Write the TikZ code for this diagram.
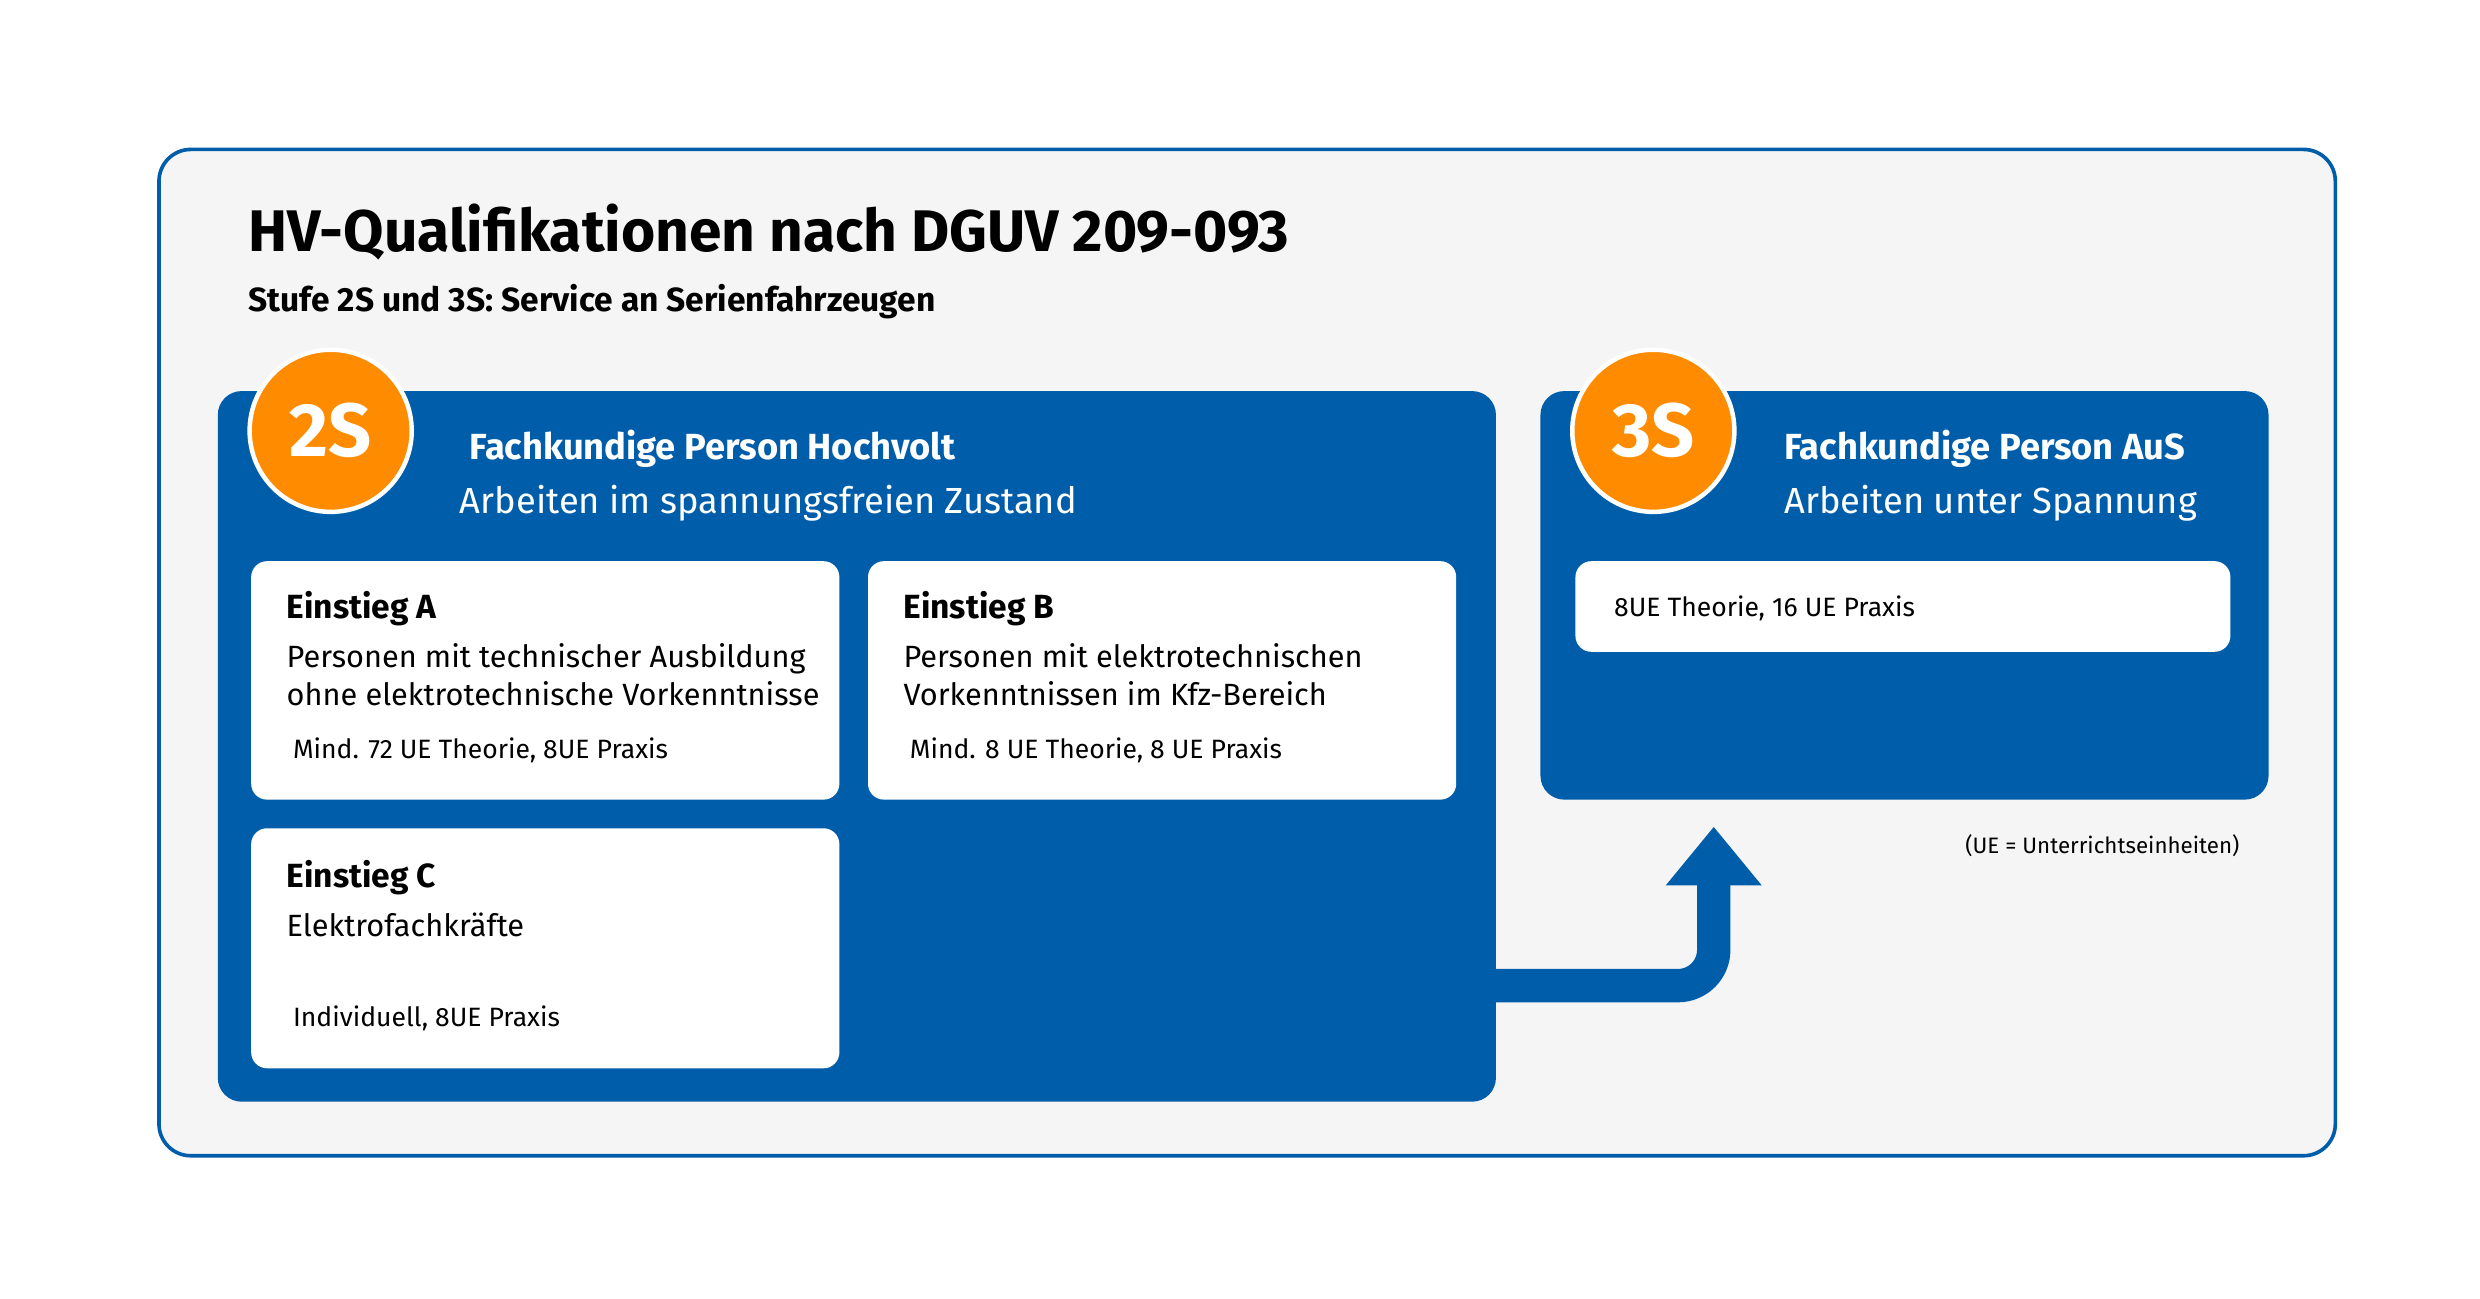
\documentclass[tikz,border=0pt]{standalone}
\usepackage{fontspec}
\setmainfont{Fira Sans}
\usetikzlibrary{arrows.meta}
\definecolor{hvblue}{RGB}{0, 93, 170}
\definecolor{hvorange}{RGB}{255, 140, 0}
\definecolor{hvgray}{RGB}{245, 245, 245}
\tikzset{
  panel/.style={fill=hvblue, rounded corners=0.3cm},
  card/.style={fill=white, rounded corners=0.2cm},
  badge/.style={circle, fill=hvorange, draw=white, line width=1.6pt, minimum size=2.04cm, inner sep=0pt, text=white, font=\fontsize{27}{30}\selectfont\bfseries},
  txt/.style={anchor=base west, inner sep=0pt},
}
\begin{document}
\begin{tikzpicture}[x=0.02cm, y=-0.02cm]
\useasboundingbox[fill=white] (0,0) rectangle (1560,817);
% Rahmen
\draw[hvblue, line width=1.3pt, fill=hvgray, rounded corners=0.4cm] (100,94) rectangle (1469,727);
\node[txt, font=\fontsize{21}{24}\selectfont\bfseries] (title) at (156,158) {HV-Qualifikationen nach DGUV 209-093};
\node[txt, font=\fontsize{12}{14}\selectfont\bfseries] (sub) at (156,196) {Stufe 2S und 3S: Service an Serienfahrzeugen};

% Stufe 2S
\path[panel] (137,246) rectangle (941,693);
\coordinate (p2s) at (941,620);
\node[badge] (b2s) at (208,271) {2S};
\node[txt, text=white, font=\fontsize{13}{15}\selectfont\bfseries] (h2s) at (295,289) {Fachkundige Person Hochvolt};
\node[txt, text=white, font=\fontsize{13}{15}\selectfont] (s2s) at (289,323) {Arbeiten im spannungsfreien Zustand};

% Einstieg A
\path[card] (158,353) rectangle (528,503);
\node[txt, font=\fontsize{12}{14}\selectfont\bfseries] (ea) at (180,389) {Einstieg A};
\node[txt, font=\fontsize{11}{13}\selectfont] (ea1) at (180,420) {Personen mit technischer Ausbildung};
\node[txt, font=\fontsize{11}{13}\selectfont] (ea2) at (180,444) {ohne elektrotechnische Vorkenntnisse};
\node[txt, font=\fontsize{9.5}{11}\selectfont] (ea3) at (184,477) {Mind. 72 UE Theorie, 8UE Praxis};

% Einstieg B
\path[card] (546,353) rectangle (916,503);
\node[txt, font=\fontsize{12}{14}\selectfont\bfseries] (eb) at (568,389) {Einstieg B};
\node[txt, font=\fontsize{11}{13}\selectfont] (eb1) at (568,420) {Personen mit elektrotechnischen};
\node[txt, font=\fontsize{11}{13}\selectfont] (eb2) at (568,444) {Vorkenntnissen im Kfz-Bereich};
\node[txt, font=\fontsize{9.5}{11}\selectfont] (eb3) at (572,477) {Mind. 8 UE Theorie, 8 UE Praxis};

% Einstieg C
\path[card] (158,521) rectangle (528,672);
\node[txt, font=\fontsize{12}{14}\selectfont\bfseries] (ec) at (180,558) {Einstieg C};
\node[txt, font=\fontsize{11}{13}\selectfont] (ec1) at (180,589) {Elektrofachkräfte};
\node[txt, font=\fontsize{9.5}{11}\selectfont] (ec3) at (184,646) {Individuell, 8UE Praxis};

% Stufe 3S
\path[panel] (969,246) rectangle (1427,503);
\node[badge] (b3s) at (1040,271) {3S};
\node[txt, text=white, font=\fontsize{13}{15}\selectfont\bfseries] (h3s) at (1122,289) {Fachkundige Person AuS};
\node[txt, text=white, font=\fontsize{13}{15}\selectfont] (s3s) at (1122,323) {Arbeiten unter Spannung};
\path[card] (991,353) rectangle (1403,410);
\node[txt, font=\fontsize{9.5}{11}\selectfont] (e3) at (1015,388) {8UE Theorie, 16 UE Praxis};
\node[anchor=base east, inner sep=0pt, font=\fontsize{8}{10}\selectfont] (note) at (1409,537) {(UE = Unterrichtseinheiten)};

% Pfeil
\coordinate (tip) at (1078,520);
\draw[hvblue, line width=0.42cm, rounded corners=0.45cm, -{Triangle[width=1.16cm, length=0.74cm]}] (p2s) -- (tip |- p2s) -- (tip);
\end{tikzpicture}
\end{document}
